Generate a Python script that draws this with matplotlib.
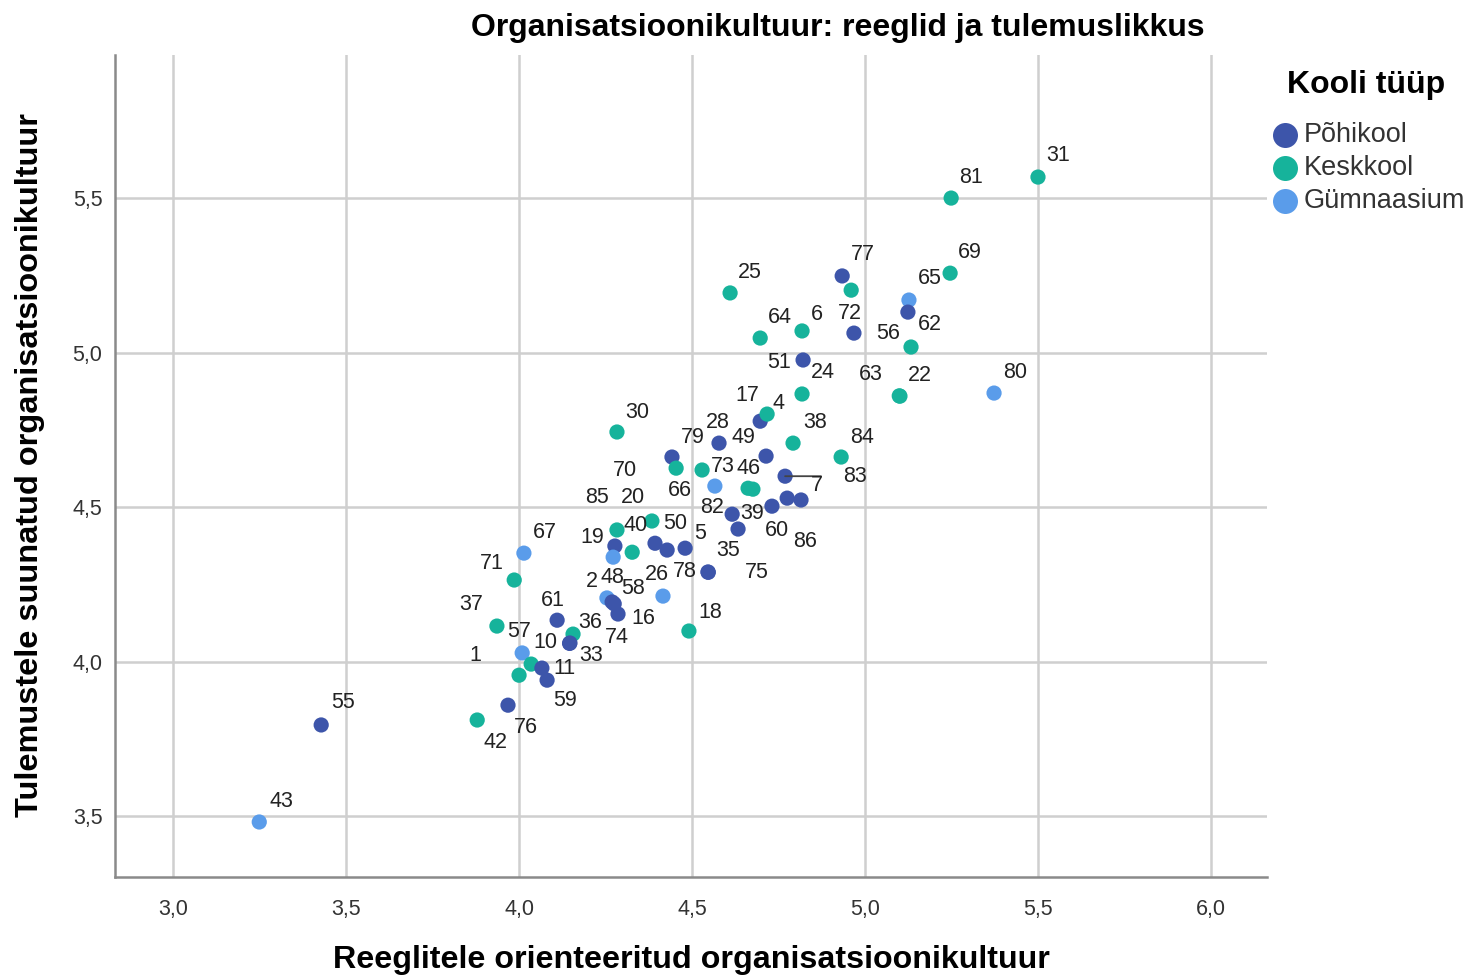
import matplotlib
matplotlib.use("Agg")
import matplotlib.pyplot as plt
from matplotlib.lines import Line2D
from matplotlib.ticker import FuncFormatter

plt.rcParams['font.family'] = ['Liberation Sans', 'DejaVu Sans']

# andmed: juhtumi nr, kooli tüüp, x (reeglid), y (tulemused)
case_labels = ["31", "81", "69", "65", "56", "62", "77", "", "25", "64",
               "6", "72", "51", "24", "22", "63", "80", "17", "4", "38",
               "84", "49", "28", "79", "66", "73", "82", "46", "", "83",
               "7", "86", "60", "39", "35", "5", "50", "20", "70", "85",
               "40", "19", "", "2", "48", "58", "16", "26", "78", "75",
               "67", "71", "18", "61", "37", "74", "36", "33", "57", "10",
               "11", "59", "1", "76", "42", "55", "43", "30"]
school_type = ["K", "K", "K", "G", "P", "K", "P", "K", "K", "K",
               "K", "P", "P", "K", "K", "K", "G", "P", "K", "K",
               "K", "P", "P", "P", "K", "K", "G", "K", "K", "P",
               "P", "P", "P", "P", "P", "P", "P", "P", "K", "K",
               "K", "P", "G", "G", "P", "P", "P", "G", "P", "P",
               "G", "K", "K", "P", "K", "K", "P", "P", "G", "K",
               "P", "P", "K", "P", "K", "P", "G", "K"]
rules = [5.500, 5.249, 5.246, 5.127, 5.124, 5.133, 4.934, 4.960, 4.610, 4.697,
         4.818, 4.968, 4.821, 4.818, 5.101, 5.099, 5.373, 4.697, 4.717, 4.792,
         4.931, 4.714, 4.578, 4.442, 4.454, 4.529, 4.566, 4.662, 4.676, 4.769,
         4.775, 4.815, 4.731, 4.616, 4.633, 4.480, 4.428, 4.393, 4.384, 4.283,
         4.327, 4.277, 4.272, 4.254, 4.269, 4.275, 4.286, 4.416, 4.546, 4.547,
         4.014, 3.986, 4.491, 4.110, 3.936, 4.156, 4.147, 4.146, 4.009, 4.035,
         4.066, 4.081, 4.000, 3.968, 3.879, 3.428, 3.249, 4.283]
results = [5.568, 5.500, 5.257, 5.170, 5.131, 5.018, 5.248, 5.202, 5.193, 5.047,
           5.070, 5.063, 4.976, 4.866, 4.859, 4.860, 4.869, 4.778, 4.801, 4.707,
           4.662, 4.665, 4.707, 4.662, 4.626, 4.620, 4.568, 4.561, 4.558, 4.600,
           4.529, 4.523, 4.503, 4.477, 4.429, 4.367, 4.361, 4.383, 4.455, 4.426,
           4.354, 4.374, 4.338, 4.206, 4.193, 4.187, 4.154, 4.212, 4.290, 4.289,
           4.351, 4.264, 4.099, 4.134, 4.115, 4.089, 4.060, 4.059, 4.028, 3.992,
           3.979, 3.940, 3.956, 3.859, 3.811, 3.795, 3.481, 4.743]

# sildi nihe punktist (px, y allapoole)
label_offsets = [(20, -22), (20, -21), (20, -21), (21, -22), (-20, 21), (19, -23), (21, -21), (0, 0), (20, -20), (20, -21),
                 (15, -16), (-4, -20), (-24, 2), (21, -21), (20, -21), (-28, -21), (21, -21), (-13, -26), (11, -11), (22, -21),
                 (21, -20), (-23, -19), (-1, -21), (21, -20), (4, 22), (21, -4), (-3, 21), (0, -20), (0, 0), (70, 0),
                 (30, -13), (4, 42), (5, 24), (20, -1), (-10, 21), (15, -15), (8, -27), (-22, -46), (-27, -51), (-20, -32),
                 (3, -27), (-23, -9), (0, 0), (-15, -16), (0, -24), (19, -15), (25, 4), (-6, -22), (-23, 0), (49, 0),
                 (21, -21), (-22, -17), (21, -19), (-4, -20), (-26, -22), (44, 3), (20, -21), (22, 12), (-3, -21), (14, -22),
                 (23, 0), (18, 20), (-44, -20), (18, 22), (18, 22), (22, -22), (22, -20), (20, -20)]

type_order = ["P", "K", "G"]
type_names = {"P": "Põhikool", "K": "Keskkool", "G": "Gümnaasium"}
colors = {"P": "#3d55aa", "K": "#16b39b", "G": "#5a9cea"}

x_ticks = [3.0, 3.5, 4.0, 4.5, 5.0, 5.5, 6.0]
y_ticks = [3.5, 4.0, 4.5, 5.0, 5.5]

W, H = 1463, 977
fig = plt.figure(figsize=(W / 100, H / 100), dpi=100)
ax = fig.add_axes([115 / W, 1 - 877 / H, (1267 - 115) / W, (877 - 55) / H])

ax.scatter(rules, results, c=[colors[t] for t in school_type], s=120,
           edgecolors='none', zorder=3)

for lab, x, y, (dx, dy) in zip(case_labels, rules, results, label_offsets):
    if not lab:
        continue
    kw = dict(xytext=(dx, -dy), textcoords='offset pixels', ha='center',
              va='center', fontsize=15.5, color='#222222', zorder=4)
    if lab == "83":
        kw['arrowprops'] = dict(arrowstyle='-', color='#444444', lw=1.3,
                                shrinkA=14, shrinkB=0)
    ax.annotate(lab, (x, y), **kw)

ax.set_xlim(2.832, 6.162)
ax.set_ylim(3.303, 5.963)
ax.set_xticks(x_ticks)
ax.set_yticks(y_ticks)
fmt = FuncFormatter(lambda v, p: f"{v:.1f}".replace(".", ","))
ax.xaxis.set_major_formatter(fmt)
ax.yaxis.set_major_formatter(fmt)
ax.tick_params(length=0, labelsize=15.5, labelcolor='#333333')
ax.tick_params(axis='x', pad=16)
ax.tick_params(axis='y', pad=9)
ax.grid(True, color='#cfcfcf', lw=1.8)
ax.set_axisbelow(True)
for side in ['top', 'right']:
    ax.spines[side].set_visible(False)
for side in ['left', 'bottom']:
    ax.spines[side].set_color('#8a8a8a')
    ax.spines[side].set_linewidth(1.8)

fig.text(838 / W, 1 - 28 / H, "Organisatsioonikultuur: reeglid ja tulemuslikkus",
         ha='center', va='center', fontsize=23, fontweight='bold')
fig.text(691 / W, 1 - 960 / H, "Reeglitele orienteeritud organisatsioonikultuur",
         ha='center', va='center', fontsize=23.2, fontweight='bold')
fig.text(30 / W, 1 - 465 / H, "Tulemustele suunatud organisatsioonikultuur",
         ha='center', va='center', fontsize=23.4, fontweight='bold', rotation=90)

# legend
fig.text(1366 / W, 1 - 85 / H, "Kooli tüüp", ha='center', va='center',
         fontsize=23, fontweight='bold')
for i, k in enumerate(type_order):
    yy = 1 - (135 + 33 * i) / H
    fig.add_artist(Line2D([1285 / W], [yy], transform=fig.transFigure, ls='none',
                          marker='o', markersize=18, markeredgewidth=0,
                          color=colors[k]))
    fig.text(1304 / W, yy, type_names[k], ha='left', va='center',
             fontsize=19.5, color='#333333')

fig.savefig("out.png", dpi=100)
